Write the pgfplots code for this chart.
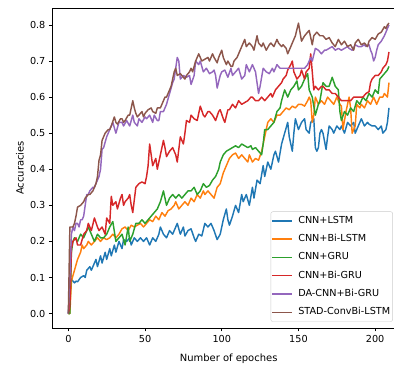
\documentclass[border=0pt]{standalone}
\usepackage{fontspec}
\setmainfont{DejaVu Sans}
\usepackage{pgfplots}
\pgfplotsset{compat=1.18}
\definecolor{c1}{HTML}{1F77B4}
\definecolor{c2}{HTML}{FF7F0E}
\definecolor{c3}{HTML}{2CA02C}
\definecolor{c4}{HTML}{D62728}
\definecolor{c5}{HTML}{9467BD}
\definecolor{c6}{HTML}{8C564B}
\newcommand{\fs}{\fontsize{9.7}{11.6}\selectfont}
\begin{document}
\begin{tikzpicture}
\useasboundingbox (0bp,0bp) rectangle (394bp,367bp);
\clip (0bp,0bp) rectangle (394bp,367bp);
\begin{axis}[
  at={(52.3bp,39bp)}, anchor=south west,
  width=352.7bp, height=320bp, scale only axis,
  xmin=-10.45, xmax=219.45, ymin=-0.04, ymax=0.847,
  xtick={0,50,100,150,200}, xticklabels={0,50,100,150,200},
  ytick={0,0.1,0.2,0.3,0.4,0.5,0.6,0.7,0.8},
  yticklabels={0.0,0.1,0.2,0.3,0.4,0.5,0.6,0.7,0.8},
  tick pos=left, tick align=outside, major tick length=3.4bp,
  tick style={black, line width=0.8bp},
  axis line style={line width=0.8bp},
  ticklabel style={font=\fs},
  label style={font=\fs},
  xlabel={Number of epoches}, ylabel={Accuracies},
  every axis x label/.style={at={(axis description cs:0.5,-0.095)}, anchor=center},
  every axis y label/.style={at={(axis description cs:-0.0916,0.5)}, anchor=center, rotate=90},
  legend cell align=left,
  legend image code/.code={\draw[#1] (0bp,0bp) -- (20bp,0bp); \path (23.5bp,0bp);},
  legend style={at={(axis description cs:0.619,0.0197)}, anchor=south west,
    draw=black!20, fill=white, fill opacity=0.8, text opacity=1, draw opacity=1,
    rounded corners=2bp, font=\fs, inner xsep=0.5bp, inner ysep=0bp,
    row sep=0pt, nodes={inner ysep=4.45bp, text height=7.2bp, text depth=2.2bp}},
  every axis plot/.append style={line width=1.45bp, line join=round, no markers},
]
\addplot[c1] coordinates {(0,0.0) (2,0.095) (3,0.09) (4,0.085) (5,0.09) (6,0.088) (8,0.10) (10,0.105) (11,0.10) (12,0.12) (14,0.13) (15,0.12) (17,0.14) (18,0.15) (19,0.13) (21,0.16) (22,0.14) (24,0.17) (25,0.15) (27,0.18) (28,0.16) (30,0.19) (31,0.17) (33,0.2) (35,0.18) (36,0.205) (38,0.2) (40,0.21) (41,0.19) (43,0.21) (45,0.2) (47,0.21) (49,0.2) (51,0.21) (53,0.19) (55,0.21) (57,0.2) (59,0.22) (60,0.24) (62,0.22) (64,0.21) (66,0.23) (68,0.22) (70,0.24) (71,0.25) (73,0.22) (75,0.24) (76,0.215) (78,0.23) (80,0.235) (82,0.21) (83,0.2) (85,0.22) (87,0.215) (89,0.25) (91,0.24) (93,0.25) (95,0.23) (97,0.205) (99,0.22) (101,0.26) (103,0.29) (104,0.26) (105,0.245) (107,0.27) (109,0.3) (111,0.28) (113,0.33) (114,0.31) (116,0.33) (118,0.30) (120,0.35) (121,0.32) (123,0.37) (125,0.36) (127,0.41) (128,0.38) (130,0.42) (132,0.40) (134,0.44) (135,0.45) (137,0.42) (139,0.47) (141,0.50) (143,0.53) (144,0.49) (146,0.45) (147,0.50) (148,0.54) (150,0.51) (152,0.53) (154,0.54) (155,0.51) (157,0.50) (158,0.53) (160,0.54) (161,0.46) (162,0.45) (163,0.46) (164,0.50) (165,0.51) (166,0.50) (168,0.455) (169,0.49) (170,0.52) (172,0.51) (173,0.50) (175,0.52) (177,0.51) (178,0.52) (180,0.50) (182,0.53) (184,0.52) (186,0.53) (187,0.50) (189,0.52) (191,0.54) (193,0.52) (195,0.53) (196,0.525) (198,0.52) (200,0.52) (202,0.51) (204,0.52) (205,0.50) (207,0.51) (208,0.53) (209,0.57)};
\addlegendentry{CNN+LSTM}
\addplot[c2] coordinates {(0,0) (1,0.0) (2,0.09) (4,0.12) (6,0.15) (8,0.17) (9,0.19) (10,0.18) (12,0.19) (13,0.2) (15,0.19) (17,0.2) (19,0.21) (21,0.2) (23,0.21) (25,0.205) (27,0.21) (29,0.22) (31,0.21) (33,0.22) (35,0.235) (37,0.24) (39,0.23) (41,0.245) (43,0.24) (45,0.245) (47,0.25) (49,0.24) (51,0.25) (53,0.26) (55,0.255) (57,0.27) (59,0.26) (61,0.28) (63,0.27) (65,0.285) (67,0.29) (69,0.3) (70,0.31) (72,0.29) (74,0.3) (76,0.31) (78,0.3) (80,0.32) (82,0.31) (84,0.33) (86,0.32) (88,0.34) (89,0.33) (91,0.34) (93,0.33) (95,0.32) (97,0.35) (99,0.36) (101,0.39) (103,0.41) (105,0.43) (107,0.44) (109,0.445) (111,0.43) (113,0.44) (115,0.43) (117,0.42) (118,0.44) (120,0.42) (122,0.43) (124,0.425) (126,0.45) (127,0.47) (128,0.49) (130,0.53) (132,0.54) (134,0.53) (136,0.55) (138,0.55) (140,0.56) (142,0.57) (144,0.565) (146,0.575) (148,0.57) (150,0.58) (152,0.58) (154,0.575) (156,0.59) (157,0.6) (158,0.59) (159,0.53) (160,0.55) (161,0.6) (163,0.58) (165,0.59) (167,0.58) (169,0.6) (171,0.59) (173,0.58) (175,0.6) (177,0.58) (178,0.575) (179,0.51) (181,0.56) (183,0.6) (184,0.57) (185,0.5) (187,0.52) (188,0.58) (190,0.57) (191,0.58) (193,0.57) (195,0.59) (197,0.58) (199,0.6) (201,0.58) (203,0.6) (205,0.6) (206,0.61) (208,0.6) (209,0.64)};
\addlegendentry{CNN+Bi-LSTM}
\addplot[c3] coordinates {(0,0) (1,0.0) (2,0.17) (3,0.2) (4,0.21) (6,0.2) (8,0.22) (10,0.21) (12,0.23) (13,0.24) (15,0.22) (17,0.2) (19,0.22) (21,0.21) (23,0.21) (25,0.22) (27,0.24) (29,0.255) (31,0.2) (33,0.21) (35,0.22) (37,0.19) (39,0.24) (40,0.2) (42,0.22) (44,0.25) (46,0.25) (48,0.26) (50,0.25) (52,0.26) (54,0.27) (56,0.28) (58,0.29) (60,0.31) (62,0.34) (64,0.3) (66,0.32) (68,0.33) (70,0.32) (72,0.33) (74,0.32) (76,0.33) (78,0.34) (80,0.34) (82,0.35) (84,0.33) (86,0.34) (88,0.36) (90,0.35) (92,0.355) (94,0.37) (96,0.38) (98,0.4) (99,0.42) (101,0.44) (103,0.45) (105,0.455) (107,0.46) (109,0.465) (111,0.46) (113,0.47) (115,0.465) (117,0.46) (119,0.465) (120,0.455) (122,0.46) (124,0.45) (126,0.44) (127,0.47) (128,0.51) (130,0.51) (132,0.52) (134,0.53) (136,0.56) (138,0.57) (139,0.59) (141,0.62) (143,0.6) (145,0.62) (147,0.63) (149,0.645) (150,0.62) (152,0.63) (154,0.65) (156,0.665) (157,0.62) (159,0.6) (160,0.575) (161,0.55) (163,0.58) (164,0.59) (166,0.64) (168,0.63) (170,0.63) (172,0.655) (174,0.63) (176,0.62) (177,0.56) (178,0.535) (180,0.56) (182,0.55) (184,0.57) (186,0.56) (188,0.59) (190,0.58) (192,0.6) (194,0.59) (196,0.61) (198,0.6) (200,0.62) (202,0.61) (203,0.65) (205,0.66) (207,0.67) (208,0.675) (209,0.685)};
\addlegendentry{CNN+GRU}
\addplot[c4] coordinates {(0,0) (1,0.02) (2,0.18) (3,0.2) (5,0.21) (6,0.19) (8,0.19) (10,0.22) (12,0.23) (13,0.25) (15,0.23) (17,0.265) (19,0.24) (20,0.23) (22,0.24) (24,0.22) (25,0.265) (27,0.25) (28,0.325) (29,0.3) (31,0.31) (32,0.29) (34,0.32) (35,0.33) (36,0.3) (37,0.31) (39,0.32) (40,0.33) (41,0.3) (42,0.28) (44,0.35) (46,0.36) (48,0.365) (50,0.36) (51,0.38) (52,0.41) (53,0.47) (54,0.44) (55,0.41) (57,0.43) (58,0.4) (60,0.44) (62,0.48) (63,0.46) (64,0.435) (66,0.45) (68,0.46) (70,0.44) (71,0.42) (73,0.49) (75,0.47) (76,0.5) (77,0.535) (79,0.53) (80,0.55) (82,0.54) (84,0.535) (86,0.575) (88,0.55) (89,0.545) (91,0.56) (92,0.56) (94,0.55) (96,0.535) (98,0.56) (99,0.565) (101,0.54) (102,0.53) (104,0.565) (105,0.565) (107,0.58) (109,0.57) (111,0.59) (113,0.58) (115,0.585) (117,0.59) (119,0.6) (120,0.6) (122,0.59) (124,0.59) (126,0.6) (128,0.59) (130,0.6) (132,0.61) (133,0.6) (135,0.62) (137,0.63) (139,0.64) (140,0.65) (142,0.66) (143,0.675) (145,0.69) (146,0.70) (147,0.67) (149,0.65) (151,0.66) (152,0.675) (154,0.65) (155,0.67) (157,0.68) (158,0.72) (159,0.67) (160,0.62) (161,0.63) (163,0.62) (165,0.63) (166,0.63) (168,0.62) (170,0.62) (172,0.61) (174,0.61) (176,0.6) (178,0.59) (180,0.59) (182,0.59) (184,0.59) (186,0.6) (188,0.6) (190,0.6) (192,0.6) (194,0.61) (196,0.615) (197,0.64) (198,0.65) (200,0.66) (202,0.66) (204,0.67) (205,0.68) (207,0.69) (208,0.7) (209,0.725)};
\addlegendentry{CNN+Bi-GRU}
\addplot[c5] coordinates {(0,0) (1,0.1) (2,0.22) (3,0.24) (4,0.23) (5,0.25) (6,0.25) (7,0.24) (8,0.26) (9,0.26) (10,0.27) (11,0.3) (12,0.33) (13,0.33) (14,0.34) (16,0.35) (17,0.35) (18,0.36) (19,0.37) (20,0.38) (21,0.40) (22,0.455) (23,0.46) (25,0.49) (26,0.5) (28,0.52) (29,0.53) (31,0.50) (33,0.53) (35,0.53) (36,0.52) (38,0.535) (40,0.52) (42,0.55) (43,0.53) (45,0.52) (46,0.54) (48,0.53) (50,0.545) (51,0.54) (53,0.55) (55,0.53) (56,0.55) (58,0.535) (59,0.535) (60,0.56) (62,0.56) (64,0.58) (66,0.61) (68,0.64) (69,0.65) (70,0.68) (71,0.71) (72,0.70) (73,0.65) (75,0.66) (77,0.655) (79,0.66) (80,0.635) (82,0.66) (83,0.70) (85,0.69) (86,0.70) (88,0.67) (90,0.68) (92,0.665) (94,0.67) (95,0.675) (96,0.66) (97,0.625) (99,0.66) (100,0.67) (102,0.675) (104,0.655) (106,0.68) (107,0.66) (109,0.67) (111,0.68) (113,0.65) (115,0.66) (116,0.69) (118,0.67) (120,0.69) (122,0.67) (124,0.61) (125,0.63) (127,0.68) (129,0.67) (131,0.665) (133,0.68) (134,0.67) (136,0.69) (138,0.68) (140,0.68) (142,0.68) (145,0.68) (148,0.68) (151,0.68) (154,0.68) (156,0.69) (158,0.71) (159,0.70) (161,0.735) (163,0.73) (165,0.72) (167,0.73) (168,0.73) (170,0.735) (172,0.74) (174,0.73) (176,0.735) (178,0.73) (180,0.735) (182,0.74) (183,0.735) (185,0.73) (187,0.745) (189,0.74) (191,0.74) (193,0.745) (194,0.74) (196,0.745) (197,0.73) (198,0.72) (199,0.70) (200,0.71) (201,0.73) (202,0.745) (204,0.755) (206,0.77) (207,0.78) (208,0.79) (209,0.8)};
\addlegendentry{DA-CNN+Bi-GRU}
\addplot[c6] coordinates {(0,0) (1,0.24) (3,0.24) (4,0.25) (5,0.27) (6,0.295) (8,0.30) (10,0.31) (11,0.32) (13,0.33) (14,0.33) (15,0.335) (16,0.34) (17,0.35) (18,0.36) (19,0.38) (20,0.425) (21,0.44) (22,0.48) (23,0.49) (24,0.50) (26,0.51) (27,0.51) (28,0.52) (30,0.545) (31,0.53) (32,0.525) (34,0.54) (35,0.54) (36,0.53) (37,0.535) (39,0.55) (40,0.55) (41,0.57) (42,0.59) (43,0.57) (44,0.555) (45,0.545) (46,0.55) (48,0.56) (49,0.545) (50,0.555) (52,0.565) (54,0.57) (55,0.56) (57,0.555) (58,0.57) (60,0.57) (61,0.58) (63,0.60) (64,0.6) (66,0.62) (67,0.63) (68,0.65) (69,0.67) (70,0.68) (71,0.66) (73,0.665) (74,0.66) (76,0.65) (77,0.66) (79,0.67) (80,0.68) (81,0.67) (83,0.70) (85,0.72) (86,0.71) (87,0.70) (89,0.705) (91,0.71) (92,0.7) (94,0.72) (95,0.71) (97,0.695) (98,0.71) (100,0.73) (101,0.71) (103,0.69) (104,0.7) (106,0.685) (107,0.685) (108,0.7) (110,0.71) (111,0.72) (113,0.74) (115,0.76) (116,0.74) (118,0.75) (120,0.74) (121,0.73) (123,0.77) (124,0.75) (126,0.74) (127,0.75) (129,0.73) (131,0.745) (132,0.75) (134,0.74) (136,0.76) (137,0.75) (139,0.74) (140,0.745) (142,0.735) (143,0.72) (145,0.74) (147,0.76) (148,0.77) (150,0.805) (151,0.78) (152,0.755) (154,0.77) (156,0.78) (157,0.785) (159,0.745) (160,0.77) (162,0.78) (164,0.77) (166,0.77) (168,0.76) (170,0.765) (172,0.75) (174,0.74) (176,0.76) (178,0.745) (180,0.755) (182,0.74) (184,0.745) (186,0.73) (187,0.75) (189,0.76) (191,0.745) (193,0.75) (195,0.74) (196,0.755) (198,0.765) (200,0.76) (202,0.775) (204,0.78) (206,0.795) (207,0.79) (208,0.8) (209,0.805)};
\addlegendentry{STAD-ConvBi-LSTM}
\end{axis}
\end{tikzpicture}
\end{document}
